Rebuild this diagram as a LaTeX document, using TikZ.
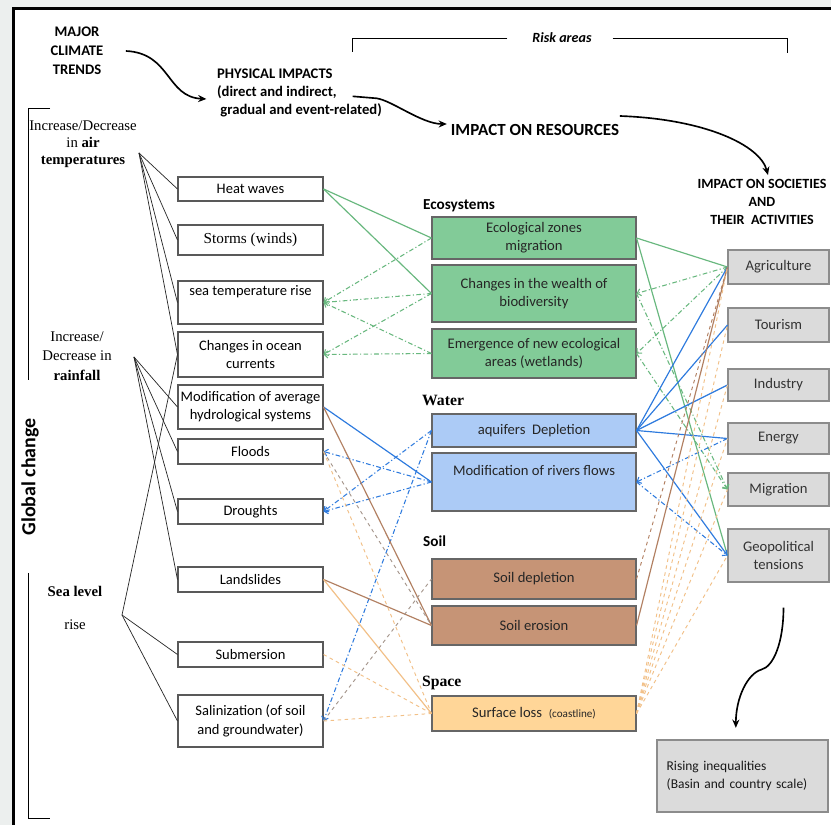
\documentclass[tikz,border=0pt]{standalone}
\usepackage{fontspec}
\setmainfont{Liberation Serif}
\newfontfamily\calib{Carlito}
\usepackage{tikz}
\usetikzlibrary{arrows.meta,positioning,calc}
\definecolor{pagebg}{RGB}{236,239,238}
\definecolor{ecofill}{RGB}{130,203,152}
\definecolor{waterfill}{RGB}{172,203,246}
\definecolor{soilfill}{RGB}{198,148,118}
\definecolor{spacefill}{RGB}{255,214,152}
\definecolor{socfill}{RGB}{219,219,219}
\definecolor{ecoline}{RGB}{104,184,126}
\definecolor{waterline}{RGB}{45,122,222}
\definecolor{soilline}{RGB}{178,128,98}
\definecolor{spaceline}{RGB}{242,192,135}
\definecolor{greyline}{RGB}{165,150,140}
\tikzset{
    boxfont/.style={font=\calib\fontsize{12.4}{15.5}\selectfont},
    leftbox/.style={draw=black!65,line width=0.9pt,fill=white,boxfont,minimum width=4.35cm,inner sep=1pt,align=center},
    midbox/.style={draw=black!60,line width=0.9pt,fill=#1,font=\calib\fontsize{12.5}{15.2}\selectfont,minimum width=6.12cm,inner sep=1pt,align=center,text=black!85},
    socbox/.style={draw=black!45,line width=0.9pt,fill=socfill,font=\calib\fontsize{12.5}{15.5}\selectfont,minimum width=3.03cm,inner sep=1pt,align=center,text=black!80},
    bighead/.style={align=center,font=\calib\bfseries\fontsize{12.5}{15.5}\selectfont},
    grouplabel/.style={anchor=west,font=\calib\bfseries\fontsize{13}{15}\selectfont},
    serifgroup/.style={anchor=west,font=\rmfamily\bfseries\fontsize{13.4}{15}\selectfont},
    trendlabel/.style={align=center,font=\rmfamily\fontsize{12.6}{14.5}\selectfont},
    fanline/.style={black!85,line width=0.6pt},
    bigarr/.style={-{Stealth[length=7pt,width=6pt]},line width=1.4pt},
    solidlink/.style={#1,line width=1pt},
    dotlink/.style={#1,line width=0.9pt,dash pattern=on 4pt off 2pt on 1pt off 2pt},
    dashlink/.style={#1,line width=0.8pt,dashed},
    barb/.style={-{Straight Barb[length=3pt]}},
}
\tikzstyle{every node}=[font=\calib\fontsize{12}{14}\selectfont]

\begin{document}
\begin{tikzpicture}[x=0.03cm,y=-0.03cm]
    \useasboundingbox (0,0) rectangle (831,825);
    \clip (0,0) rectangle (831,825);
    \fill[pagebg] (0,0) rectangle (831,825);
    \draw[line width=2.5pt,fill=white] (13.5,8.5) rectangle (850,850);

    \node[bighead,font=\calib\bfseries\fontsize{12.5}{16.2}\selectfont] (trends) at (77,51) {MAJOR\\CLIMATE\\TRENDS};
    \node[bighead,align=left,anchor=west,font=\calib\bfseries\fontsize{12.5}{15}\selectfont] (phys) at (213,93) {PHYSICAL IMPACTS\\(direct and indirect,\\\ gradual and event-related)};
    \node[bighead,font=\calib\bfseries\fontsize{14.5}{17}\selectfont] (res) at (535,130) {IMPACT ON RESOURCES};
    \node[bighead,font=\calib\bfseries\fontsize{12}{15.5}\selectfont] (soc) at (762,202) {IMPACT ON SOCIETIES\\AND\\THEIR\ \ ACTIVITIES};
    \node[font=\calib\bfseries\itshape\fontsize{12}{14}\selectfont] (risk) at (562,38) {Risk areas};
    \draw[thin] ([xshift=-0.63cm]risk.west) -- ++(-155,0) -- ++(0,14);
    \draw[thin] ([xshift=0.51cm]risk.east) -- ++(175,0) -- ++(0,15);

    \draw[bigarr] ([xshift=0.55cm]trends.east) .. controls +(45,2) and +(-40,-2) .. ([xshift=-0.2cm,yshift=-0.18cm]phys.west);
    \draw[bigarr] ([xshift=-1cm,yshift=-0.1cm]phys.east) -- ++(24,2) .. controls +(15,2) and +(-25,0) .. ([yshift=0.18cm]res.west);
    \draw[bigarr] ([xshift=-0.1cm,yshift=0.42cm]res.east) .. controls +(85,3) and +(-8,-30) .. ([xshift=0.18cm]soc.north);

    \node[rotate=90,font=\calib\bfseries\fontsize{17}{19}\selectfont] (glob) at (30,477) {Global change};
    \draw[thin] (50,108) -- (28,108) -- (28,380);
    \draw[thin] (28,573) -- (28,818) -- (50,818);

    \node[trendlabel] (air) at (83,144) {Increase/Decrease\\in \textbf{air}\\\textbf{temperatures}};
    \node[trendlabel,font=\rmfamily\fontsize{12.6}{16.5}\selectfont] (rain) at (77,356) {Increase/\\Decrease in\\\textbf{rainfall}};
    \node[trendlabel] (sea) at (75,608) {\textbf{Sea level}\\[13pt]rise};
    \coordinate (airfan) at (139,153);
    \coordinate (rainfan) at (134,357);
    \coordinate (seafan) at (122,615);

    \node[leftbox,minimum height=0.72cm] (heat) at (250.5,189) {Heat waves};
    \node[leftbox,minimum height=0.9cm,font=\rmfamily\fontsize{13}{15}\selectfont] (storm) at (250.5,240) {Storms (winds)};
    \node[leftbox,minimum height=1.29cm] (seatemp) at (250.5,302.5) {sea temperature rise\\\strut};
    \node[leftbox,minimum height=1.35cm] (ocean) at (250.5,354.5) {Changes in ocean\\currents};
    \node[leftbox,minimum height=1.32cm] (hydro) at (250.5,407) {Modification of average\\hydrological systems};
    \node[leftbox,minimum height=0.75cm] (floods) at (250.5,451.5) {Floods};
    \node[leftbox,minimum height=0.75cm] (drought) at (250.5,511.5) {Droughts};
    \node[leftbox,minimum height=0.75cm] (landsl) at (250.5,579.5) {Landslides};
    \node[leftbox,minimum height=0.75cm] (submer) at (250.5,654.5) {Submersion};
    \node[leftbox,minimum height=1.56cm] (salin) at (250.5,721) {Salinization (of soil\\and groundwater)};

    \foreach \dst in {heat,storm,seatemp,ocean} \draw[fanline] (airfan) -- (\dst.west);
    \foreach \dst in {hydro,floods,drought,landsl} \draw[fanline] (rainfan) -- (\dst.west);
    \foreach \dst in {ocean,submer,salin} \draw[fanline] (seafan) -- (\dst.west);

    \node[grouplabel] (ecolab) at (419,206) {Ecosystems};
    \node[midbox=ecofill,minimum height=1.26cm] (ecozones) at (534,238) {Ecological zones\\migration};
    \node[midbox=ecofill,minimum height=1.71cm] (biodiv) at (534,293.5) {Changes in the wealth of\\biodiversity};
    \node[midbox=ecofill,minimum height=1.47cm] (emerg) at (534,353.5) {Emergence of new ecological\\areas (wetlands)};
    \node[serifgroup] (waterlab) at (418,400) {Water};
    \node[midbox=waterfill,minimum height=0.99cm] (aquif) at (534,430.5) {aquifers\ \ Depletion};
    \node[midbox=waterfill,minimum height=1.74cm] (rivers) at (534,482) {Modification of rivers flows\\\strut};
    \node[grouplabel] (soillab) at (419,541) {Soil};
    \node[midbox=soilfill,minimum height=1.2cm] (soildep) at (534,579) {Soil depletion};
    \node[midbox=soilfill,minimum height=1.17cm] (soilero) at (534,625.5) {Soil erosion};
    \node[serifgroup] (spacelab) at (418,683) {Space};
    \node[midbox=spacefill,minimum height=1.05cm] (surface) at (534,713.5) {Surface loss\ \ {\fontsize{9.5}{11}\selectfont(coastline)}};

    \node[socbox,minimum height=1.02cm] (agri) at (778.5,267) {Agriculture};
    \node[socbox,minimum height=1.02cm] (tour) at (778.5,325) {Tourism};
    \node[socbox,minimum height=0.96cm] (indus) at (778.5,385) {Industry};
    \node[socbox,minimum height=0.93cm] (energy) at (778.5,438.5) {Energy};
    \node[socbox,minimum height=0.99cm] (migr) at (778.5,489.5) {Migration};
    \node[socbox,minimum height=1.59cm] (geo) at (778.5,555.5) {Geopolitical\\tensions};
    \node[socbox,minimum width=5.13cm,minimum height=2.16cm,text width=4.55cm,align=left,text=black!90,font=\calib\fontsize{11.5}{16}\selectfont] (ineq) at (742.5,776) {Rising inequalities\\(Basin and country scale)};
    \draw[bigarr] ([xshift=0.15cm,yshift=-0.75cm]geo.south) .. controls +(0,35) and +(12,-3) .. ++(-22,62) .. controls +(-14,4) and +(0,-30) .. ([xshift=-0.2cm,yshift=0.35cm]ineq.north);

    \draw[solidlink=ecoline] (heat.east) -- (ecozones.west);
    \draw[solidlink=ecoline] (heat.east) -- (biodiv.west);
    \foreach \src/\dst in {ecozones/seatemp,biodiv/seatemp,biodiv/ocean,emerg/ocean,emerg/seatemp}
        \draw[dotlink=ecoline,barb] (\src.west) -- (\dst.east);
    \draw[solidlink=waterline] (hydro.east) -- (rivers.west);
    \foreach \src/\dst in {rivers/floods,aquif/drought,rivers/drought,aquif/salin}
        \draw[dotlink=waterline,barb] (\src.west) -- (\dst.east);
    \draw[solidlink=soilline] (hydro.east) -- (soilero.west);
    \draw[solidlink=soilline] (landsl.east) -- (soilero.west);
    \draw[dashlink=greyline] (salin.east) -- (soildep.west);
    \draw[dashlink=greyline] (floods.east) -- (soilero.west);
    \draw[solidlink=spaceline] (landsl.east) -- (surface.west);
    \foreach \src in {floods,submer,salin} \draw[dashlink=spaceline] (\src.east) -- (surface.west);

    \draw[solidlink=ecoline] (ecozones.east) -- (agri.west);
    \draw[solidlink=ecoline] (ecozones.east) -- (geo.west);
    \foreach \dst in {biodiv,emerg} \draw[dotlink=ecoline,barb] (agri.west) -- (\dst.east);
    \foreach \src in {biodiv,emerg} \draw[dotlink=ecoline,barb] (\src.east) -- (migr.west);
    \foreach \dst in {agri,tour,indus,energy,geo} \draw[solidlink=waterline] (aquif.east) -- (\dst.west);
    \draw[dotlink=waterline,barb] (energy.west) -- (rivers.east);
    \draw[dotlink=waterline,barb] (rivers.east) -- (geo.west);
    \draw[solidlink=soilline] (soilero.east) -- (agri.west);
    \draw[dashlink=soilline] (soildep.east) -- (agri.west);
    \foreach \dst in {agri,tour,indus,energy,migr,geo} \draw[dashlink=spaceline] (surface.east) -- (\dst.west);
\end{tikzpicture}
\end{document}
